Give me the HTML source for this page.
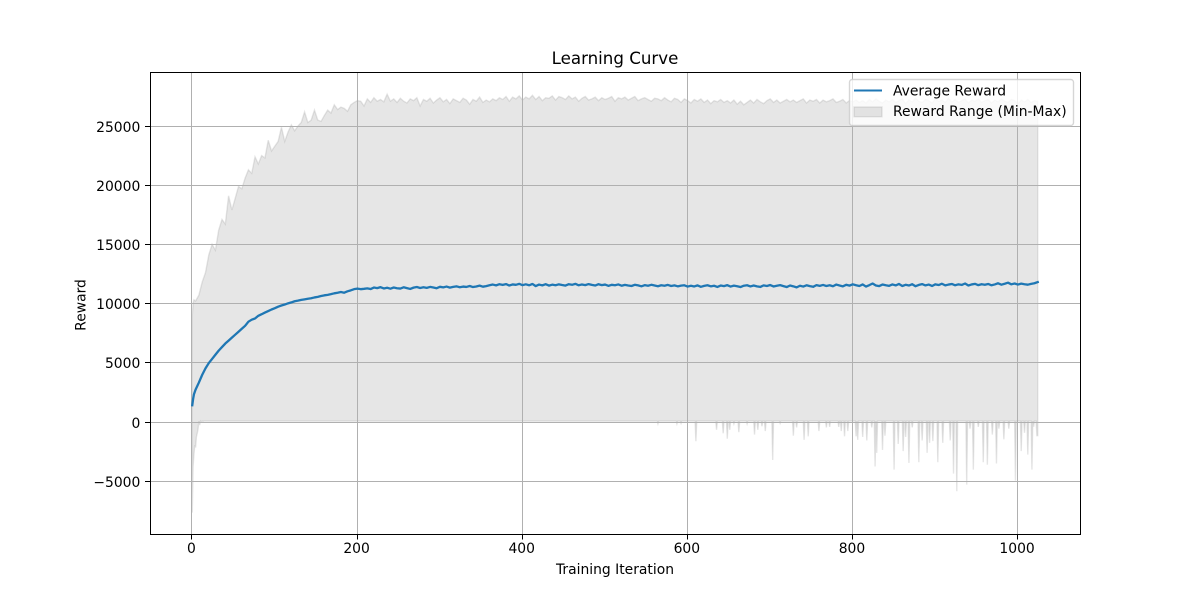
<!DOCTYPE html>
<html>
<head>
<meta charset="utf-8">
<title>Learning Curve</title>
<style>
html,body{margin:0;padding:0;background:#fff;width:1200px;height:600px;overflow:hidden}
svg{display:block}
text{font-family:"DejaVu Sans","Liberation Sans",sans-serif;fill:#000}
</style>
</head>
<body>
<svg id="chart" width="1200" height="600" viewBox="0 0 1200 600" xmlns="http://www.w3.org/2000/svg">
  <rect x="0" y="0" width="1200" height="600" fill="#fff"/>
  <g id="range-layer"></g>
  <g id="grid-layer"></g>
  <g id="line-layer"></g>
  <g id="tick-layer"></g>
  <rect x="150.5" y="72.5" width="930" height="462" fill="none" stroke="#000" stroke-width="1.11" shape-rendering="crispEdges"/>
  <text x="615" y="64" font-size="16.67" text-anchor="middle">Learning Curve</text>
  <text x="615" y="574" font-size="13.89" text-anchor="middle">Training Iteration</text>
  <text transform="translate(85.5 305) rotate(-90)" font-size="13.89" text-anchor="middle">Reward</text>
  <g>
    <rect x="849.5" y="79.5" width="224" height="46" rx="2.8" ry="2.8" fill="#fff" fill-opacity="0.8" stroke="#ccc" stroke-opacity="0.8" stroke-width="1.39"/>
    <line x1="854" y1="90.5" x2="882" y2="90.5" stroke="#1f77b4" stroke-width="2.08"/>
    <text x="893" y="95.5" font-size="13.89">Average Reward</text>
    <rect x="854" y="107" width="28" height="9.7" fill="#808080" fill-opacity="0.2" stroke="#808080" stroke-opacity="0.2" stroke-width="1.39"/>
    <text x="893" y="116" font-size="13.89">Reward Range (Min-Max)</text>
  </g>
</svg>
<script>
const xTicks = [0, 200, 400, 600, 800, 1000];
const xTickLabels = ["0", "200", "400", "600", "800", "1000"];
const yTicks = [-5000, 0, 5000, 10000, 15000, 20000, 25000];
const yTickLabels = ["\u22125000", "0", "5000", "10000", "15000", "20000", "25000"];

const iterations = [1,2,3,
5,9,13,17,21,25,29,33,37,41,
45,49,53,57,61,65,69,73,77,81,
85,89,93,97,101,105,109,113,117,121,
125,129,133,137,141,145,149,153,157,161,
165,169,173,177,181,185,189,193,197,201,
205,209,213,217,221,225,229,233,237,241,
245,249,253,257,261,265,269,273,277,281,
285,289,293,297,301,305,309,313,317,321,
325,329,333,337,341,345,349,353,357,361,
365,369,373,377,381,385,389,393,397,401,
405,409,413,417,421,425,429,433,437,441,
445,449,453,457,461,465,469,473,477,481,
485,489,493,497,501,505,509,513,517,521,
525,529,533,537,541,545,549,553,557,561,
565,569,573,577,581,585,589,593,597,601,
605,609,613,617,621,625,629,633,637,641,
645,649,653,657,661,665,669,673,677,681,
685,689,693,697,701,705,709,713,717,721,
725,729,733,737,741,745,749,753,757,761,
765,769,773,777,781,785,789,793,797,801,
805,809,813,817,821,825,829,833,837,841,
845,849,853,857,861,865,869,873,877,881,
885,889,893,897,901,905,909,913,917,921,
925,929,933,937,941,945,949,953,957,961,
965,969,973,977,981,985,989,993,997,1001,
1005,1009,1013,1017,1021,1025];

const averageReward = [1380,1900,2300,
2700,3300,3950,4500,4950,5300,5650,6000,6300,6600,
6850,7100,7350,7600,7850,8100,8450,8620,8720,8950,
9080,9220,9350,9480,9590,9720,9820,9900,10000,10080,
10180,10230,10290,10340,10390,10430,10500,10550,10620,10680,
10720,10780,10850,10900,10960,10900,11020,11100,11200,11250,
11200,11230,11270,11210,11340,11290,11370,11260,11320,11240,
11340,11280,11250,11360,11290,11220,11330,11380,11300,11360,
11310,11390,11340,11280,11400,11350,11420,11330,11390,11440,
11360,11420,11390,11470,11380,11430,11500,11410,11460,11530,
11590,11520,11620,11560,11630,11510,11600,11570,11650,11540,
11610,11530,11640,11460,11590,11520,11620,11500,11580,11530,
11610,11550,11500,11620,11570,11650,11530,11600,11540,11630,
11560,11510,11620,11540,11590,11480,11570,11530,11600,11490,
11560,11510,11470,11570,11520,11440,11540,11490,11570,11510,
11450,11530,11490,11560,11470,11520,11440,11500,11530,11420,
11490,11430,11520,11400,11480,11530,11440,11490,11390,11510,
11460,11540,11420,11500,11450,11380,11490,11530,11430,11510,
11440,11390,11520,11470,11550,11430,11490,11540,11460,11380,
11510,11440,11350,11490,11420,11530,11460,11400,11540,11480,
11560,11470,11530,11450,11590,11510,11440,11570,11500,11610,
11530,11470,11600,11420,11540,11680,11510,11460,11590,11530,
11480,11600,11520,11640,11470,11570,11510,11620,11450,11560,
11630,11520,11590,11470,11610,11550,11660,11520,11590,11640,
11530,11610,11560,11680,11510,11600,11650,11540,11620,11570,
11640,11530,11600,11700,11580,11660,11750,11610,11680,11590,
11670,11620,11580,11650,11700,11800];

const maxReward = [9000,10000,10300,
10200,10700,11800,12600,14100,15000,14500,16200,17100,16700,
19100,17900,18900,19900,19700,20600,21300,21000,22400,21800,
22500,22300,23800,22900,23300,23700,24900,23700,24500,25100,
24600,25000,25300,26200,25300,25500,26350,25500,25400,25900,
26350,26100,26800,26400,26600,26500,26250,26800,27000,27150,
27100,26700,27300,27000,27400,27100,27250,27050,27700,27100,
27300,27000,27350,27100,26950,27300,27150,27400,26700,27250,
27100,27350,26950,27200,27400,27050,27250,26900,27300,27150,
27000,27350,27200,26850,27250,27100,27450,27000,27200,27050,
27300,27150,27400,27250,27500,27100,27450,27300,27550,27200,
27450,27300,27600,27250,27500,27150,27400,27350,27550,27200,
27500,27400,27250,27550,27300,27450,27100,27350,27500,27200,
27300,27450,27150,27400,27250,27350,27500,27100,27400,27300,
27450,27200,27350,27500,27150,27300,27400,27250,27100,27350,
27300,27150,27400,27200,27050,27350,27250,27000,27300,27150,
26950,27250,27100,27300,27000,27200,26900,27150,27050,27250,
27000,27150,26950,27200,26850,27100,26800,27000,27200,26950,
27250,27050,26900,27150,27300,27000,27200,26950,27100,27250,
27050,27200,27000,27150,27300,26950,27200,27100,27250,26950,
27200,27050,27150,27300,27000,27100,27250,26950,27150,27050,
27200,27000,27150,26950,27250,27050,27300,27100,26950,27200,
27050,27250,27000,27150,27300,26900,27200,27050,27350,27100,
27000,27250,27150,26950,27300,27100,27200,27000,27350,27050,
27250,27000,27150,27300,26950,27200,27100,27300,27000,27150,
27250,26950,27200,27050,27300,27100,27000,27250,27150,26900,
27200,27050,27250,27000,27150,27100];

const minFloor = 40;
const minIterations = [1,2,3,4,5,6,7,8,10,12,14,
565,588,593,611,636,644,649,652,657,663,673,682,686,691,695,704,713,729,733,742,747,760,769,773,784,787,791,795,805,807,
813,818,824,828,830,837,840,851,856,862,865,869,873,881,885,891,894,898,904,910,919,923,927,939,943,947,953,959,964,970,975,978,984,990,998,1005,1009,1013,1018,1020,1024,1025];
const minReward = [-7700,-3800,-2800,-2000,-2200,-1300,-1000,-650,-300,-20,10,
-200,-200,-150,-1660,-700,-1000,-1450,-700,-200,-900,-200,-1100,-700,-400,-800,-3250,-150,-1200,-500,-1550,-1250,-800,-500,-450,-450,-800,-1250,-800,-1250,-1550,
-1300,-1600,-500,-3800,-2650,-2400,-1200,-4070,-1900,-2500,-1300,-3500,-500,-3440,-1600,-2650,-1800,-1650,-3440,-1800,-1600,-4400,-5900,-5330,-600,-4070,-450,-3440,-3650,-1100,-3550,-600,-1500,-600,-5000,-2500,-950,-2800,-4070,-450,-1200,-1200];

const plotLeft = 150, plotRight = 1080, plotTop = 72, plotBottom = 534;
const xDomainMin = -50.2, xDomainMax = 1076.2;
const yDomainMin = -9513, yDomainMax = 29573;
function xScale(v) { return plotLeft + (v - xDomainMin) / (xDomainMax - xDomainMin) * (plotRight - plotLeft); }
function yScale(v) { return plotBottom - (v - yDomainMin) / (yDomainMax - yDomainMin) * (plotBottom - plotTop); }
function fmt(p) { return p[0].toFixed(2) + ',' + p[1].toFixed(2); }

const SVG_NS = 'http://www.w3.org/2000/svg';
function make(tag, parent, attrs) {
  const el = document.createElementNS(SVG_NS, tag);
  Object.keys(attrs).forEach(function (k) { el.setAttribute(k, attrs[k]); });
  parent.appendChild(el);
  return el;
}

/* reward range band: max forward, then min backward */
const upperPts = iterations.map(function (it, i) { return [xScale(it), yScale(maxReward[i])]; });
const lowerPts = [];
minIterations.forEach(function (it, i) {
  lowerPts.push([xScale(it), yScale(minReward[i])]);
  const next = minIterations[i + 1];
  if (next !== undefined && next - it > 1) {
    lowerPts.push([xScale(it + 1), yScale(minFloor)]);
    if (next - it > 2) lowerPts.push([xScale(next - 1), yScale(minFloor)]);
  }
});
const band = make('polygon', document.getElementById('range-layer'), {
  points: upperPts.concat(lowerPts.slice().reverse()).map(fmt).join(' '),
  fill: '#808080', 'fill-opacity': '0.2', stroke: '#808080', 'stroke-opacity': '0.2', 'stroke-width': '1.39', 'stroke-linejoin': 'miter'
});



/* grid + ticks + tick labels */
const gridLayer = document.getElementById('grid-layer');
const tickLayer = document.getElementById('tick-layer');
xTicks.forEach(function (t, i) {
  const px = Math.round(xScale(t)) + 0.5;
  const g = make('line', gridLayer, { x1: px, x2: px, y1: plotTop, y2: plotBottom, stroke: '#b0b0b0', 'stroke-width': '1.11', 'shape-rendering': 'crispEdges' });
  
  
  const m = make('line', tickLayer, { x1: px, x2: px, y1: plotBottom, y2: plotBottom + 5.4, stroke: '#000', 'stroke-width': '1.11', 'shape-rendering': 'crispEdges' });
  
  
  const l = make('text', tickLayer, { x: xScale(t), y: 553, 'font-size': '13.89', 'text-anchor': 'middle' });
  l.textContent = xTickLabels[i];
  
  
});
yTicks.forEach(function (t, i) {
  const py = Math.round(yScale(t)) + 0.5;
  const g = make('line', gridLayer, { x1: plotLeft, x2: plotRight, y1: py, y2: py, stroke: '#b0b0b0', 'stroke-width': '1.11', 'shape-rendering': 'crispEdges' });
  
  
  const m = make('line', tickLayer, { x1: plotLeft - 4.9, x2: plotLeft, y1: py, y2: py, stroke: '#000', 'stroke-width': '1.11', 'shape-rendering': 'crispEdges' });
  
  
  const l = make('text', tickLayer, { x: 140.3, y: py + 5.5, 'font-size': '13.89', 'text-anchor': 'end' });
  l.textContent = yTickLabels[i];
  
  
});

/* average reward line */
const avgLine = make('polyline', document.getElementById('line-layer'), {
  points: iterations.map(function (it, i) { return fmt([xScale(it), yScale(averageReward[i])]); }).join(' '),
  fill: 'none', stroke: '#1f77b4', 'stroke-width': '2.3', 'stroke-linejoin': 'round', 'stroke-linecap': 'square'
});


</script>
</body>
</html>
